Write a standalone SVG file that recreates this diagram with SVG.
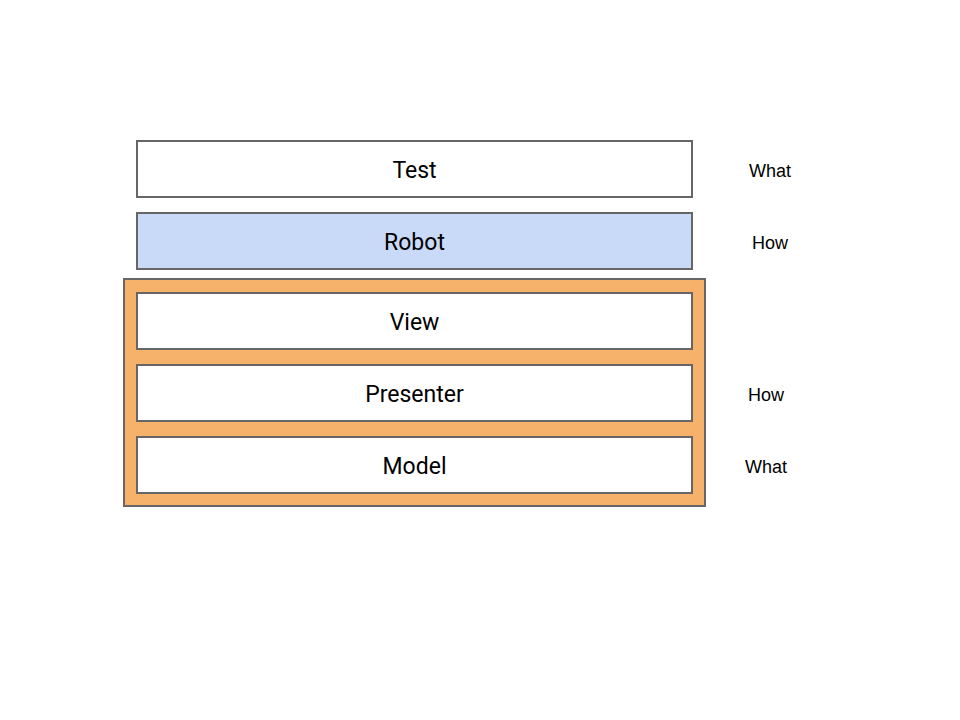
<svg xmlns="http://www.w3.org/2000/svg" width="960" height="720" viewBox="0 0 960 720">
  <style>
    .layer { stroke: #666666; stroke-width: 2; }
    .plain { fill: #ffffff; }
    .robot { fill: #c9daf8; }
    .frame { fill: #f6b26b; stroke: #666666; stroke-width: 2; }
    .name { font-family: Roboto, "Liberation Sans", sans-serif; font-size: 23px; fill: #000000; text-anchor: middle; }
    .side { font-family: "Liberation Sans", Arial, sans-serif; font-size: 18px; fill: #000000; text-anchor: middle; }
  </style>
  <rect width="960" height="720" fill="#ffffff"/>

  <g id="test">
    <rect class="layer plain" x="137" y="141" width="555" height="56"/>
    <text class="name" x="414.5" y="178">Test</text>
  </g>
  <g id="robot">
    <rect class="layer robot" x="137" y="213" width="555" height="56"/>
    <text class="name" x="414.5" y="250">Robot</text>
  </g>

  <g id="app">
    <rect class="frame" x="124" y="279" width="581" height="227"/>
    <g id="view">
      <rect class="layer plain" x="137" y="293" width="555" height="56"/>
      <text class="name" x="414.5" y="330">View</text>
    </g>
    <g id="presenter">
      <rect class="layer plain" x="137" y="365" width="555" height="56"/>
      <text class="name" x="414.5" y="402">Presenter</text>
    </g>
    <g id="model">
      <rect class="layer plain" x="137" y="437" width="555" height="56"/>
      <text class="name" x="414.5" y="474">Model</text>
    </g>
  </g>

  <g id="connectors"></g>

  <g id="annotations">
    <text class="side" x="770" y="177">What</text>
    <text class="side" x="770" y="249">How</text>
    <text class="side" x="766" y="401">How</text>
    <text class="side" x="766" y="473">What</text>
  </g>
</svg>
